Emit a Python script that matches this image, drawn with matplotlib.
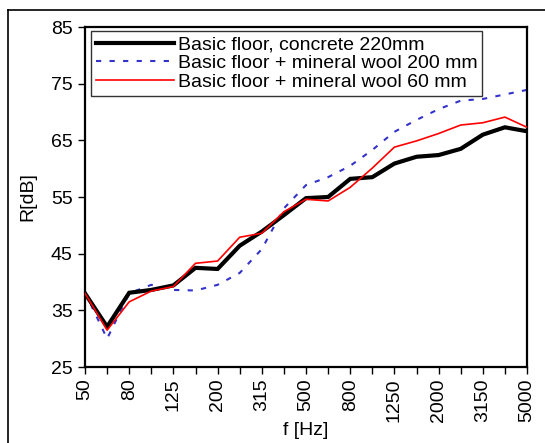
import matplotlib
matplotlib.use("Agg")
import matplotlib.pyplot as plt
from matplotlib.lines import Line2D

plt.rcParams['font.family'] = ['Liberation Sans', 'DejaVu Sans']

freqs = ["50", "63", "80", "100", "125", "160", "200", "250", "315", "400", "500",
         "630", "800", "1000", "1250", "1600", "2000", "2500", "3150", "4000", "5000"]
concrete = [38.0, 32.1, 38.1, 38.6, 39.4, 42.5, 42.3, 46.4, 48.9, 51.8, 54.8,
            55.0, 58.2, 58.5, 60.9, 62.1, 62.4, 63.5, 66.0, 67.3, 66.6]
wool200 = [38.2, 30.0, 38.0, 39.5, 38.6, 38.5, 39.5, 41.6, 45.8, 53.0, 57.1,
           58.5, 60.5, 63.3, 66.5, 68.6, 70.5, 72.0, 72.3, 73.1, 73.9]
wool60 = [38.0, 31.5, 36.5, 38.4, 39.2, 43.3, 43.7, 47.9, 48.6, 52.4, 54.6,
          54.3, 56.7, 60.1, 63.8, 64.9, 66.2, 67.7, 68.1, 69.1, 67.3]
labels = ["Basic floor, concrete 220mm",
          "Basic floor + mineral wool 200 mm",
          "Basic floor + mineral wool 60 mm"]
yticks = [25, 35, 45, 55, 65, 75, 85]

W, H = 545, 443
FS = 14
fig = plt.figure(figsize=(W / 100, H / 100), dpi=100)
ax = fig.add_axes([85 / W, 1 - 367 / H, (527 - 85) / W, (367 - 27) / H])

x = list(range(len(freqs)))
ax.plot(x, concrete, color='black', lw=3.0, solid_joinstyle='miter', label=labels[0], zorder=3)
ax.plot(x, wool200, color='#3333CC', lw=1.5, linestyle=(0, (2.5, 4)), label=labels[1], zorder=2)
ax.plot(x, wool60, color='#FF0000', lw=1.2, label=labels[2], zorder=4)

ax.set_xlim(0, len(freqs) - 1)
ax.set_ylim(25, 85)
ax.set_yticks(yticks)
ax.set_xticks(x)
ax.set_xticklabels([f if i % 2 == 0 else "" for i, f in enumerate(freqs)], rotation=90)
ax.tick_params(axis='both', direction='out', length=5, width=1, labelsize=FS, color='black')
ax.tick_params(axis='x', pad=3)
ax.tick_params(axis='y', pad=4)
for s in ax.spines.values():
    s.set_linewidth(1.6)
ax.set_ylabel("R[dB]", fontsize=FS, labelpad=10)
ax.set_xlabel("f [Hz]", fontsize=FS, labelpad=0)

leg = ax.legend(loc='upper left', bbox_to_anchor=(6 / 442, 1 - 4 / 340), fontsize=FS,
                frameon=True, fancybox=False, borderpad=0.25, labelspacing=0.05,
                handlelength=4.0, handletextpad=0.2, borderaxespad=0)
leg.get_frame().set_edgecolor('black')
leg.get_frame().set_linewidth(1.0)

# outer chart-area border (left and top visible)
fig.add_artist(Line2D([8 / W, 8 / W], [0, 1 - 10 / H], transform=fig.transFigure, color='black', lw=1.2))
fig.add_artist(Line2D([8 / W, 1], [1 - 10 / H, 1 - 10 / H], transform=fig.transFigure, color='black', lw=1.2))

fig.savefig("out.png", dpi=100)
